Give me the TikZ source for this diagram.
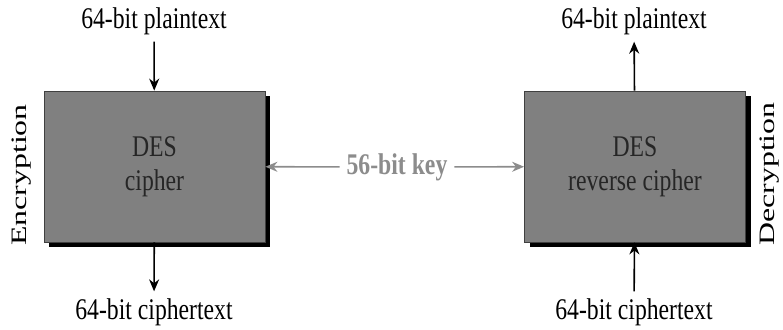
\documentclass[tikz,border=0pt]{standalone}
\usepackage{fontspec}
\setmainfont{Liberation Serif}[FakeStretch=0.79]
\newfontfamily\sidefont{Liberation Serif}[FakeStretch=1.45]
\usetikzlibrary{shadows,arrows.meta}
\begin{document}
\begin{tikzpicture}[x=0.5pt,y=-0.5pt,
  txt/.style={font=\fontsize{15}{17}\selectfont},
  side/.style={font=\sidefont\fontsize{11}{13}\selectfont,rotate=90},
  desbox/.style={txt,draw=black!75,fill=black!50,text=black!85,align=center,
    minimum width=110.5pt,minimum height=75.5pt,
    drop shadow={shadow xshift=2.5pt,shadow yshift=-2.5pt,fill=black,opacity=1}},
  arr/.style={-{Stealth[length=6pt,width=5pt]},thick}]
  \useasboundingbox (0,0) rectangle (783,329);
  \node[desbox] (enc) at (154.5,166.5) {DES\\cipher};
  \node[desbox] (dec) at (635,166.5) {DES\\reverse cipher};
  \node[txt] (ptin) at (154,21) {64-bit plaintext};
  \node[txt] (ctout) at (154,312) {64-bit ciphertext};
  \node[txt] (ptout) at (634,21) {64-bit plaintext};
  \node[txt] (ctin) at (634,312) {64-bit ciphertext};
  \node[side] (encl) at (22,175) {Encryption};
  \node[side] (decl) at (770,174) {Decryption};
  \node[txt,font=\fontsize{15}{17}\selectfont\bfseries,text=black!45] (key) at (397,167) {56-bit key};
  \draw[arr] (ptin) -- (enc);
  \draw[arr] (enc) -- (ctout);
  \draw[arr] (dec) -- (ptout);
  \draw[arr] (ctin) -- (dec);
  \draw[arr,black!45] (key) -- (enc);
  \draw[arr,black!45] (key) -- (dec);
\end{tikzpicture}
\end{document}
